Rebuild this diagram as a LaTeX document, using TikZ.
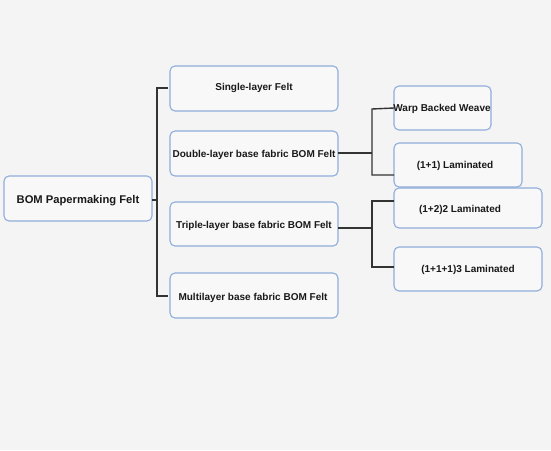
\documentclass[tikz,border=0pt]{standalone}
\usepackage{fontspec}
\setmainfont{Liberation Sans}
\definecolor{bg}{HTML}{F4F4F4}
\definecolor{bx}{HTML}{F8F8F8}
\definecolor{bd}{HTML}{8FAEDC}
\definecolor{ln}{HTML}{333333}
\begin{document}
\begin{tikzpicture}[x=1pt,y=-1pt,
  box/.style={draw=bd,fill=bx,line width=1.1pt,rounded corners=5pt},
  lbl/.style={font=\bfseries\fontsize{10}{12}\selectfont,text=black!90,inner sep=0pt,anchor=base},
  conn/.style={draw=ln,line width=1.4pt}]
\fill[bg] (0,0) rectangle (551,450);
\useasboundingbox (0,0) rectangle (551,450);
% boxes
\draw[box] (4,176) rectangle (152,221);
\node[lbl,font=\bfseries\fontsize{11.2}{13}\selectfont] (root) at (78,203) {BOM Papermaking Felt};
\draw[box] (170,66) rectangle (338,111);
\node[lbl] (single) at (254,90.5) {Single-layer Felt};
\draw[box] (170,131) rectangle (338,176);
\node[lbl] (double) at (254,157.5) {Double-layer base fabric BOM Felt};
\draw[box] (170,202) rectangle (338,246);
\node[lbl] (triple) at (254,228.5) {Triple-layer base fabric BOM Felt};
\draw[box] (170,273) rectangle (338,318);
\node[lbl] (multi) at (253,300.5) {Multilayer base fabric BOM Felt};
\draw[box] (394,86) rectangle (491,130);
\node[lbl] (warp) at (442,111.5) {Warp Backed Weave};
\draw[box] (394,143) rectangle (522,187);
\node[lbl] (l11) at (455,168.5) {(1+1) Laminated};
\draw[box] (394,188) rectangle (542,228);
\node[lbl] (l122) at (460,212.5) {(1+2)2 Laminated};
\draw[box] (394,247) rectangle (542,291);
\node[lbl] (l1113) at (468,272) {(1+1+1)3 Laminated};
% anchors for connectors
\coordinate (rootR) at (152,200);
\coordinate (tr) at (157,200);
\coordinate (singleL) at (168,88);
\coordinate (multiL) at (168,296);
\coordinate (doubleR) at (338,153);
\coordinate (dtr) at (372,153);
\coordinate (warpL) at (394,108);
\coordinate (l11L) at (394,175);
\coordinate (tripleR) at (338,228);
\coordinate (ttr) at (372,228);
\coordinate (l122L) at (394,201);
\coordinate (l1113L) at (394,267);
% connectors
\draw[conn] (rootR) -- (tr);
\draw[conn] (singleL) -| (tr |- singleL) -- (tr |- multiL) -- (multiL);
\draw[conn] (doubleR) -- (dtr);
\draw[conn] (warpL) -- (372,109) -- (dtr |- l11L) -- (l11L);
\draw[conn] (tripleR) -- (ttr);
\draw[conn] (l122L) -- (ttr |- l122L) -- (ttr |- l1113L) -- (l1113L);
\end{tikzpicture}
\end{document}
